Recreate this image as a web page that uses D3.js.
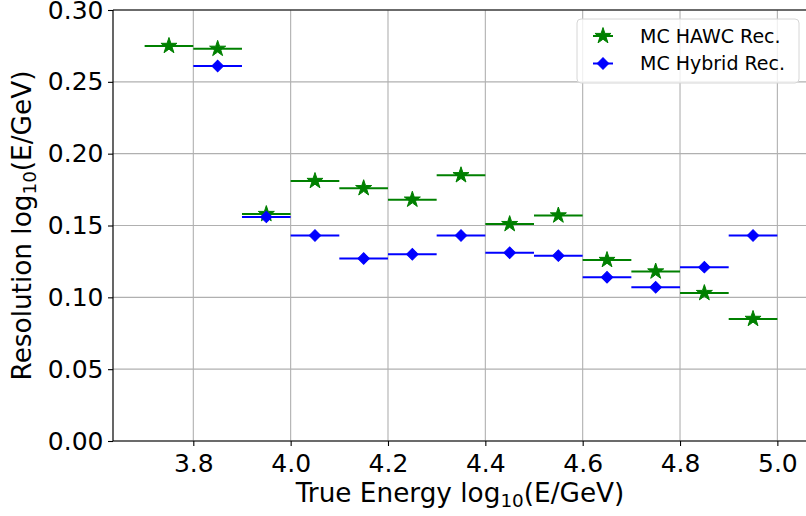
<!DOCTYPE html>
<html>
<head>
<meta charset="utf-8">
<script src="https://cdn.jsdelivr.net/npm/d3@7"></script>
<style>
  html, body { margin: 0; padding: 0; background: #fff; }
  svg { display: block; font-family: "DejaVu Sans", sans-serif; }
</style>
</head>
<body>
<svg id="chart" width="806" height="516"></svg>
<script>
// Energy bins (log10 of true energy, bin centres, bin half-width 0.05)
const hawcEnergy = [3.75, 3.85, 3.95, 4.05, 4.15, 4.25, 4.35, 4.45, 4.55, 4.65, 4.75, 4.85, 4.95];
const hawcResolution = [0.275, 0.273, 0.158, 0.181, 0.176, 0.168, 0.185, 0.151, 0.157, 0.126, 0.118, 0.103, 0.085];

const hybridEnergy = [3.85, 3.95, 4.05, 4.15, 4.25, 4.35, 4.45, 4.55, 4.65, 4.75, 4.85, 4.95];
const hybridResolution = [0.261, 0.156, 0.143, 0.127, 0.130, 0.143, 0.131, 0.129, 0.114, 0.107, 0.121, 0.143];

const binHalfWidth = 0.05;
const xTicks = [3.8, 4.0, 4.2, 4.4, 4.6, 4.8, 5.0];
const yTicks = [0.00, 0.05, 0.10, 0.15, 0.20, 0.25, 0.30];
const seriesNames = ["MC HAWC Rec.", "MC Hybrid Rec."];

const svg = d3.select("#chart");
const plotLeft = 113, plotRight = 809, plotTop = 10, plotBottom = 441;

const x = d3.scaleLinear().domain([3.635, 5.065]).range([plotLeft, plotRight]);
const y = d3.scaleLinear().domain([0, 0.30]).range([plotBottom, plotTop]);

// grid
const grid = svg.append("g");
grid.selectAll("line.vx").data(xTicks).join("line")
  .attr("x1", d => x(d)).attr("x2", d => x(d))
  .attr("y1", plotTop).attr("y2", plotBottom)
  .attr("stroke", "#b0b0b0").attr("stroke-width", 1.1);
grid.selectAll("line.hy").data(yTicks).join("line")
  .attr("x1", plotLeft).attr("x2", plotRight)
  .attr("y1", d => y(d)).attr("y2", d => y(d))
  .attr("stroke", "#b0b0b0").attr("stroke-width", 1.1);

// axes
const xAxis = d3.axisBottom(x).tickValues(xTicks).tickFormat(d3.format(".1f"))
  .tickSize(5).tickPadding(8);
const yAxis = d3.axisLeft(y).tickValues(yTicks).tickFormat(d3.format(".2f"))
  .tickSize(5).tickPadding(4.5);

const gx = svg.append("g").attr("transform", `translate(0,${plotBottom})`).call(xAxis);
const gy = svg.append("g").attr("transform", `translate(${plotLeft},0)`).call(yAxis);
[gx, gy].forEach(g => {
  g.select(".domain").remove();
  g.selectAll(".tick line").attr("stroke", "#000").attr("stroke-width", 1.1);
  g.selectAll(".tick text").attr("fill", "#000")
    .style("font-family", "'DejaVu Sans', sans-serif").style("font-size", "25px");
});

// frame
const frame = svg.append("g").attr("fill", "none").attr("stroke", "#000").attr("stroke-width", 1.2);
frame.append("line").attr("x1", plotLeft).attr("x2", plotLeft).attr("y1", plotTop).attr("y2", plotBottom);
frame.append("line").attr("x1", plotLeft).attr("x2", plotRight).attr("y1", plotBottom).attr("y2", plotBottom);
frame.append("line").attr("x1", plotLeft).attr("x2", plotRight).attr("y1", plotTop).attr("y2", plotTop);
frame.append("line").attr("x1", plotRight).attr("x2", plotRight).attr("y1", plotTop).attr("y2", plotBottom);

// marker shapes: five-pointed star and square diamond
const starPath = d3.symbol().type(d3.symbolStar).size(80)();
const diamondPath = d3.symbol().type(d3.symbolSquare).size(66)();

function drawSeries(energy, values, color, markerPath, rotate) {
  const g = svg.append("g");
  const pts = energy.map((e, i) => ({ e, v: values[i] }));
  g.selectAll("line").data(pts).join("line")
    .attr("x1", d => x(d.e - binHalfWidth)).attr("x2", d => x(d.e + binHalfWidth))
    .attr("y1", d => y(d.v)).attr("y2", d => y(d.v))
    .attr("stroke", color).attr("stroke-width", 2);
  g.selectAll("path").data(pts).join("path")
    .attr("d", markerPath)
    .attr("transform", d => `translate(${x(d.e)},${y(d.v)}) rotate(${rotate})`)
    .attr("fill", color).attr("stroke", color).attr("stroke-width", 1);
}

drawSeries(hawcEnergy, hawcResolution, "#008000", starPath, 0);
drawSeries(hybridEnergy, hybridResolution, "#0000ff", diamondPath, 45);

// axis labels
const xl = svg.append("text")
  .attr("x", 460).attr("y", 502)
  .attr("text-anchor", "middle").attr("font-size", 26.3).attr("fill", "#000");
xl.append("tspan").text("True Energy log");
xl.append("tspan").attr("font-size", 18.4).attr("dy", 5).text("10");
xl.append("tspan").attr("dy", -5).text("(E/GeV)");

const yl = svg.append("text")
  .attr("transform", `translate(31,${(plotTop + plotBottom) / 2}) rotate(-90)`)
  .attr("text-anchor", "middle").attr("font-size", 26.3).attr("fill", "#000");
yl.append("tspan").text("Resolution log");
yl.append("tspan").attr("font-size", 18.4).attr("dy", 5).text("10");
yl.append("tspan").attr("dy", -5).text("(E/GeV)");

// legend
const lg = svg.append("g");
lg.append("rect").attr("x", 577).attr("y", 19).attr("width", 222).attr("height", 64)
  .attr("rx", 4).attr("fill", "#fff").attr("fill-opacity", 0.8)
  .attr("stroke", "#d6d6d6").attr("stroke-width", 1);
const legendRows = [
  { name: seriesNames[0], color: "#008000", path: starPath, rot: 0, cy: 36 },
  { name: seriesNames[1], color: "#0000ff", path: diamondPath, rot: 45, cy: 63.5 }
];
legendRows.forEach(r => {
  lg.append("line").attr("x1", 593).attr("x2", 613).attr("y1", r.cy).attr("y2", r.cy)
    .attr("stroke", r.color).attr("stroke-width", 2);
  lg.append("path").attr("d", r.path)
    .attr("transform", `translate(603,${r.cy}) rotate(${r.rot})`)
    .attr("fill", r.color).attr("stroke", r.color).attr("stroke-width", 1);
  lg.append("text").attr("x", 640).attr("y", r.cy + 6.5)
    .attr("font-size", 19).attr("fill", "#000").text(r.name);
});
</script>
</body>
</html>
